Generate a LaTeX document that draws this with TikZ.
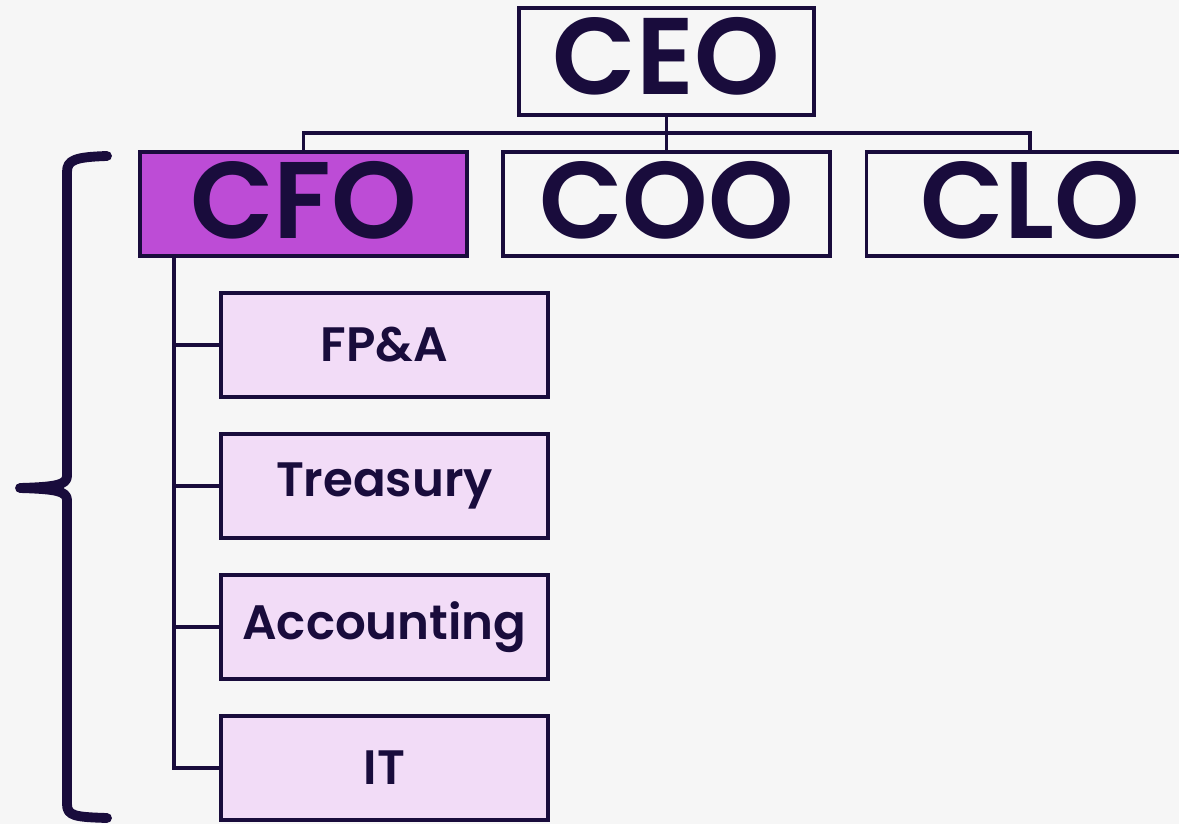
\documentclass[tikz,border=0pt]{standalone}
\usepackage{fontspec}
\setmainfont[BoldFont={Poppins SemiBold}]{Poppins}
\definecolor{ink}{HTML}{190C3C}
\definecolor{paper}{HTML}{F6F6F6}
\definecolor{cfofill}{HTML}{BD4CD6}
\definecolor{deptfill}{HTML}{F2DCF7}

\begin{document}
\begin{tikzpicture}[x=0.02cm, y=-0.02cm, line width=1.9pt, draw=ink]
   \fill[paper] (0,0) rectangle (1179,824);
   \useasboundingbox (0,0) rectangle (1179,824);
   \tikzstyle{chief}=[rectangle, draw=ink, fill=paper, text=ink, minimum width=6.54cm, minimum height=2.08cm, inner sep=0pt, font=\fontsize{62}{62}\selectfont\bfseries]
   \tikzstyle{dept}=[rectangle, draw=ink, fill=deptfill, text=ink, minimum width=6.54cm, minimum height=2.08cm, inner sep=0pt, font=\fontsize{27.5}{27.5}\selectfont\bfseries]
   \node[chief, minimum width=5.9cm, minimum height=2.14cm] (ceo) at (666.5,61.5) {\raisebox{6pt}{CEO}};
   \node[chief, fill=cfofill] (cfo) at (303.5,204) {\raisebox{5pt}{CFO}};
   \node[chief] (coo) at (666.5,204) {\raisebox{5pt}{COO}};
   \node[chief] (clo) at (1030,204) {\raisebox{5pt}{CLO}};
   \coordinate (bar) at (666.5,133);
   \draw (ceo) -- (coo);
   \draw (cfo.north) |- (bar) -| (clo.north);
   \coordinate (spine) at (174,256);
   \foreach \i/\word in {0/{FP\&A},1/{Treasury},2/{Accounting},3/{IT}} {
       \node[dept] (d\i) at (384.5,345+141*\i) {\word};
       \draw (spine) |- (d\i.west);
   }
   % brace
   \draw[line width=5.6pt, line cap=round, line join=round]
      (107,156) .. controls (75,157) and (67,160) .. (67,172) -- (67,476)
      .. controls (67,485) and (55,487) .. (20,488)
      .. controls (55,489) and (67,491) .. (67,500) -- (67,804)
      .. controls (67,816) and (75,817) .. (107,818);
\end{tikzpicture}
\end{document}
